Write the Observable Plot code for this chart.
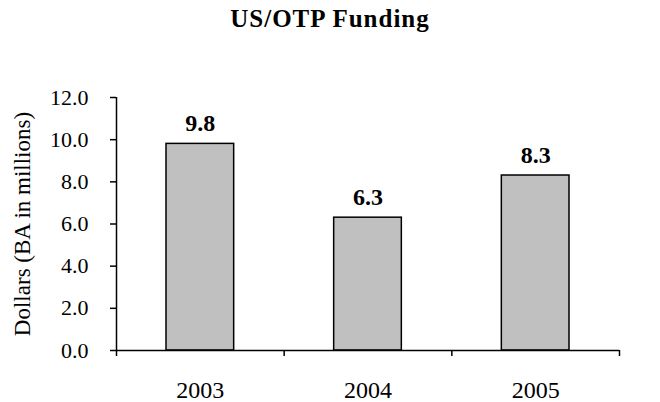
<!DOCTYPE html>
<html>
<head>
<meta charset="utf-8">
<script src="https://cdn.jsdelivr.net/npm/d3@7"></script>
<script src="https://cdn.jsdelivr.net/npm/@observablehq/plot@0.6"></script>
<style>
  html, body { margin: 0; padding: 0; background: #fff; }
  #wrap { position: relative; width: 660px; height: 402px; font-family: "Liberation Serif", serif; }
  #title { position: absolute; left: 0; width: 660px; top: 6px; text-align: center; font-size: 25px; line-height: 25px; letter-spacing: 1px; font-weight: bold; color: #000; }
  #chart { position: absolute; left: 0; top: 0; }
</style>
</head>
<body>
<div id="wrap">
  <div id="chart"></div>
  <div id="title">US/OTP Funding</div>
</div>
<script>
const years = ["2003", "2004", "2005"];
const funding = [9.8, 6.3, 8.3];
const yTicks = [0, 2, 4, 6, 8, 10, 12];
const yLabel = "Dollars (BA in millions)";

const data = years.map((year, i) => ({ year, i, value: funding[i] }));
const bounds = d3.range(years.length + 1);
const centers = years.map((_, i) => i + 0.5);

const chart = Plot.plot({
  width: 660,
  height: 402,
  marginLeft: 116,
  marginRight: 41,
  marginTop: 97,
  marginBottom: 52,
  style: { fontFamily: "Liberation Serif, serif", color: "#000", background: "#fff", fontSize: "22px" },
  x: { domain: [0, years.length] },
  y: { domain: [0, 12] },
  marks: [
    Plot.rectY(data, { x1: d => d.i, x2: d => d.i + 1, y: "value", insetLeft: 50, insetRight: 50, fill: "#c0c0c0", stroke: "#000", strokeWidth: 1.5 }),
    Plot.text(data, { x: d => d.i + 0.5, y: "value", text: d => d.value.toFixed(1), lineAnchor: "bottom", dy: -13, fontWeight: "bold", fontSize: 24, fill: "#000" }),
    Plot.axisY({ ticks: yTicks, tickFormat: d3.format(".1f"), tickSize: 6, tickPadding: 22, strokeWidth: 1.5, fontSize: 22, label: null }),
    Plot.axisY({ ticks: [], label: yLabel, labelAnchor: "center", labelArrow: "none", labelOffset: 103, fontSize: 23 }),
    Plot.axisX({ ticks: bounds, tickFormat: () => "", tickSize: 6, strokeWidth: 1.5, label: null }),
    Plot.axisX({ ticks: centers, tickFormat: d => years[Math.floor(d)], tickSize: 0, tickPadding: 30, fontSize: 24, label: null }),
    Plot.ruleX([0], { stroke: "#000", strokeWidth: 1.5 }),
    Plot.ruleY([0], { stroke: "#000", strokeWidth: 1.5 })
  ]
});
document.getElementById("chart").appendChild(chart);
</script>
</body>
</html>
